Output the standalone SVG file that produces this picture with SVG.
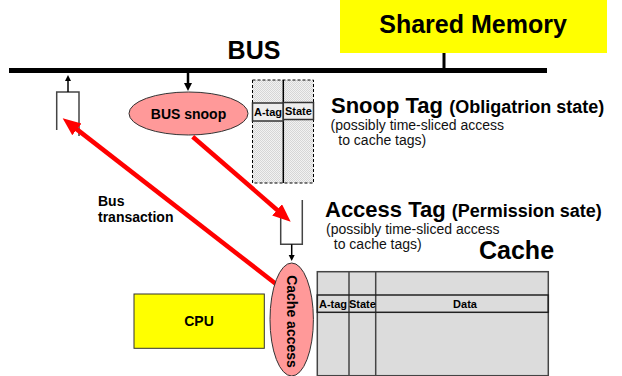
<svg xmlns="http://www.w3.org/2000/svg" width="622" height="376" viewBox="0 0 622 376">
  <style>
    text { font-family: "Liberation Sans", Arial, sans-serif; fill: #000; }
    .big { font-size: 25px; font-weight: bold; }
    .tag { font-size: 22px; font-weight: bold; }
    .sub { font-size: 18px; font-weight: bold; }
    .note { font-size: 14px; fill: #111; }
    .cell { font-size: 11px; font-weight: bold; text-anchor: middle; }
    .lbl { font-size: 14px; font-weight: bold; }
    .port { fill: none; stroke: #444; stroke-width: 1.5; }
    .pink { fill: #ff9999; stroke: #333; stroke-width: 1; }
    .yellow { fill: #ffff00; stroke: #333; stroke-width: 1; }
    .red { stroke: #ff0000; stroke-width: 4.5; fill: none; }
    .blk { stroke: #000; fill: none; }
  </style>
  <defs>
    <pattern id="dots" width="2" height="2" patternUnits="userSpaceOnUse">
      <rect width="2" height="2" fill="#f2f2f2"/>
      <rect width="1" height="1" fill="#d6d6d6"/>
      <rect x="1" y="1" width="1" height="1" fill="#d6d6d6"/>
    </pattern>
    <marker id="redHead" markerUnits="userSpaceOnUse" markerWidth="20" markerHeight="16" refX="2" refY="7.5" orient="auto">
      <path d="M0,0 L18,7.5 L0,15 z" fill="#ff0000"/>
    </marker>
    <marker id="blkHead" markerUnits="userSpaceOnUse" markerWidth="10" markerHeight="10" refX="1" refY="4" orient="auto">
      <path d="M0,0 L8,4 L0,8 z" fill="#000"/>
    </marker>
    <marker id="blkHeadSmall" markerUnits="userSpaceOnUse" markerWidth="8" markerHeight="8" refX="1" refY="3" orient="auto">
      <path d="M0,0 L6,3 L0,6 z" fill="#000"/>
    </marker>
  </defs>

  <!-- Shared memory -->
  <g id="shared-memory">
    <rect x="340" y="-5" width="267" height="58" fill="#ffff00"/>
    <text class="big" x="473" y="33" text-anchor="middle">Shared Memory</text>
  </g>

  <!-- System bus -->
  <g id="bus">
    <rect x="9" y="68" width="538" height="5" fill="#000"/>
    <text class="big" x="254" y="59" text-anchor="middle">BUS</text>
  </g>

  <!-- Bus-side port of the cache controller -->
  <g id="bus-port">
    <path class="port" d="M56.7,130 V92 H79 V136"/>
  </g>

  <!-- Bus snoop -->
  <g id="bus-snoop">
    <ellipse class="pink" cx="188.5" cy="113.5" rx="59.5" ry="21.5"/>
    <text class="lbl" x="188.5" y="119" text-anchor="middle">BUS snoop</text>
  </g>

  <!-- Snoop tag array -->
  <g id="snoop-tag">
    <rect x="252.5" y="80" width="61" height="103" fill="url(#dots)" stroke="#000" stroke-width="1" stroke-dasharray="3,2"/>
    <line x1="283.3" y1="80" x2="283.3" y2="183" stroke="#000" stroke-width="1.5"/>
    <rect x="252.5" y="103" width="30.8" height="18" fill="#eeeeee" stroke="#333" stroke-width="1.5"/>
    <rect x="283.3" y="102.5" width="30.2" height="17" fill="#eeeeee" stroke="#333" stroke-width="1.5"/>
    <text class="cell" x="268" y="116">A-tag</text>
    <text class="cell" x="298.4" y="115">State</text>
    <text class="tag" x="331" y="113">Snoop Tag <tspan class="sub">(Obligatrion state)</tspan></text>
    <text class="note" x="330.5" y="130">(possibly time-sliced access</text>
    <text class="note" x="330.5" y="145" xml:space="preserve">  to cache tags)</text>
  </g>

  <!-- Processor-side port -->
  <g id="access-port">
    <path class="port" d="M280.7,206.7 V244.3 H302.3 V200"/>
  </g>

  <!-- Access tag description -->
  <g id="access-tag">
    <text class="tag" x="325" y="217">Access Tag <tspan class="sub">(Permission sate)</tspan></text>
    <text class="note" x="326" y="234">(possibly time-sliced access</text>
    <text class="note" x="326" y="249" xml:space="preserve">  to cache tags)</text>
  </g>

  <!-- Cache array -->
  <g id="cache">
    <text class="big" x="479" y="259">Cache</text>
    <rect x="317.3" y="271.7" width="231" height="104" fill="#dcdcdc" stroke="#444" stroke-width="1.5"/>
    <line x1="349" y1="271.7" x2="349" y2="375.7" stroke="#444" stroke-width="1.5"/>
    <line x1="375.7" y1="271.7" x2="375.7" y2="375.7" stroke="#444" stroke-width="1.5"/>
    <rect x="317.3" y="295" width="231" height="17.3" fill="none" stroke="#222" stroke-width="1.5"/>
    <text class="cell" x="333" y="307.5">A-tag</text>
    <text class="cell" x="362.4" y="307.5">State</text>
    <text class="cell" x="465" y="307.5">Data</text>
  </g>

  <!-- CPU -->
  <g id="cpu">
    <rect class="yellow" x="134" y="294" width="130.3" height="54.3"/>
    <text class="lbl" x="199" y="326" text-anchor="middle">CPU</text>
  </g>

  <!-- Connectors -->
  <g id="connectors">
    <line x1="444" y1="53" x2="444" y2="68" stroke="#000" stroke-width="3"/>
    <line class="blk" x1="68" y1="92" x2="68" y2="80" stroke-width="1.5" marker-end="url(#blkHeadSmall)"/>
    <line class="blk" x1="188" y1="73" x2="188" y2="84" stroke-width="2.5" marker-end="url(#blkHead)"/>
    <line class="blk" x1="291.7" y1="244.3" x2="291.7" y2="256" stroke-width="1.5" marker-end="url(#blkHeadSmall)"/>
    <line class="red" x1="192.7" y1="136.7" x2="278.6" y2="211.2" marker-end="url(#redHead)"/>
    <line class="red" x1="276" y1="284" x2="75.3" y2="128.1" marker-end="url(#redHead)"/>
    <text class="lbl" x="98" y="206">Bus</text>
    <text class="lbl" x="98" y="222">transaction</text>
  </g>

  <!-- Cache access -->
  <g id="cache-access">
    <ellipse class="pink" cx="291.7" cy="319.5" rx="21.7" ry="56.5"/>
    <text class="lbl" transform="translate(287,321.5) rotate(90)" text-anchor="middle">Cache access</text>
  </g>
</svg>
